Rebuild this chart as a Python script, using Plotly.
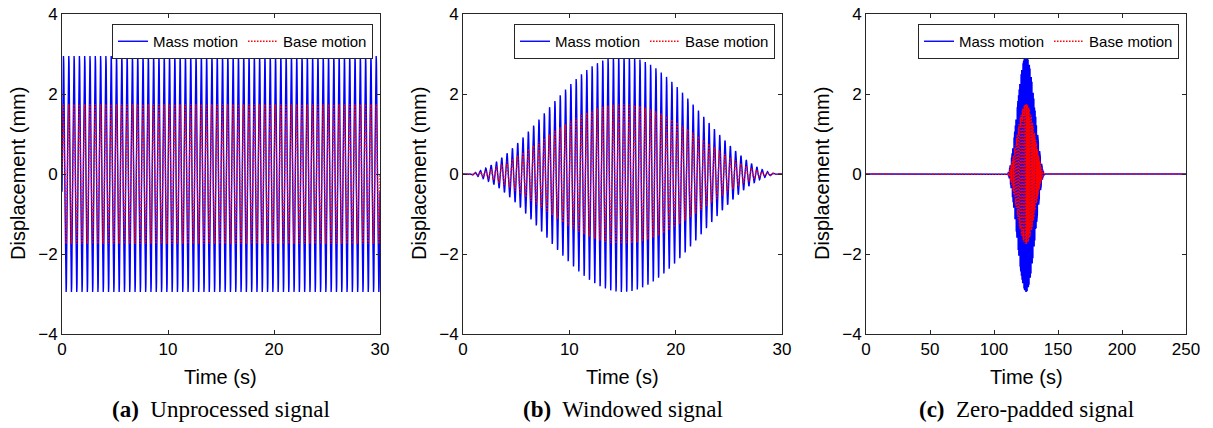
import numpy as np
import plotly.graph_objects as go

# ---- values ----
duration_s = 30.0          # length of recorded signal
total_padded_s = 250.0     # length after zero padding
pad_start_s = 110.0        # start of the signal inside the padded record
sample_rate_hz = 100.0
drive_freq_hz = 2.0        # ~60 cycles in 30 s
mass_amp_mm = 2.95
base_amp_mm = 1.75
mass_phase_rad = -0.15

x_ticks_ab = [0, 10, 20, 30]
x_ticks_c = [0, 50, 100, 150, 200, 250]
y_ticks = [-4, -2, 0, 2, 4]
captions = ["<b>(a)</b>  Unprocessed signal", "<b>(b)</b>  Windowed signal", "<b>(c)</b>  Zero-padded signal"]
series_names = ["Mass motion", "Base motion"]
x_title = "Time (s)"
y_title = "Displacement (mm)"

# ---- signals ----
t = np.arange(0, duration_s + 1e-9, 1 / sample_rate_hz)
mass_raw = mass_amp_mm * np.sin(2 * np.pi * drive_freq_hz * t + mass_phase_rad)
base_raw = base_amp_mm * np.sin(2 * np.pi * drive_freq_hz * t)
hann = np.sin(np.pi * t / duration_s) ** 2
mass_win = mass_raw * hann
base_win = base_raw * hann

t_pad = np.arange(0, total_padded_s + 1e-9, 1 / sample_rate_hz)
mass_pad = np.zeros_like(t_pad)
base_pad = np.zeros_like(t_pad)
i0 = int(round(pad_start_s * sample_rate_hz))
mass_pad[i0:i0 + len(t)] = mass_win
base_pad[i0:i0 + len(t)] = base_win

W, H = 1213, 428


def px(x):
    return x / W


def py(y):
    return 1 - y / H


xdoms = [(px(62), px(380)), (px(463), px(782)), (px(866), px(1186))]
ydom = (py(334), py(14))

fig = go.Figure()
data = [(t, mass_raw, base_raw), (t, mass_win, base_win), (t_pad, mass_pad, base_pad)]
for k, (tt, m, b) in enumerate(data):
    suffix = "" if k == 0 else str(k + 1)
    leg = "legend" + suffix
    fig.add_trace(go.Scatter(x=tt, y=m, mode="lines", name=series_names[0],
                             line=dict(color="#0000ff", width=1.4),
                             xaxis="x" + suffix, yaxis="y" + suffix, legend=leg))
    fig.add_trace(go.Scatter(x=tt, y=b, mode="lines", name=series_names[1],
                             line=dict(color="#ff0000", width=1.4, dash="1.5px,1.5px"),
                             xaxis="x" + suffix, yaxis="y" + suffix, legend=leg))

sans = "Liberation Sans, Arial, sans-serif"
axis_font = dict(family=sans, size=17, color="black")
title_font = dict(family=sans, size=20, color="black")

layout = dict(
    width=W, height=H, margin=dict(l=0, r=0, t=0, b=0, autoexpand=False),
    paper_bgcolor="white", plot_bgcolor="white", showlegend=True,
)
for k in range(3):
    suffix = "" if k == 0 else str(k + 1)
    xr = [0, 30] if k < 2 else [0, 250]
    xt = x_ticks_ab if k < 2 else x_ticks_c
    layout["xaxis" + suffix] = dict(
        domain=list(xdoms[k]), anchor="y" + suffix, range=xr, tickvals=xt,
        ticks="inside", ticklen=4, tickcolor="#262626", showline=True, linecolor="#262626",
        linewidth=1, mirror="ticks", showgrid=False, zeroline=False, automargin=False,
        tickfont=axis_font, ticklabeloverflow="allow",
    )
    layout["yaxis" + suffix] = dict(
        domain=list(ydom), anchor="x" + suffix, range=[-4, 4], tickvals=y_ticks,
        ticks="inside", ticklen=4, tickcolor="#262626", showline=True, linecolor="#262626",
        linewidth=1, mirror="ticks", showgrid=False, zeroline=False, automargin=False,
        tickfont=axis_font, ticklabeloverflow="allow",
    )
    layout["legend" + suffix] = dict(
        x=xdoms[k][1] - 7 / W, y=ydom[1] - 10 / H, xanchor="right", yanchor="top",
        orientation="h", bgcolor="white", bordercolor="#262626", borderwidth=1,
        font=dict(family=sans, size=15, color="black"),
        itemwidth=30, tracegroupgap=0, traceorder="normal",
    )

fig.update_layout(**layout)

for k in range(3):
    cx = (xdoms[k][0] + xdoms[k][1]) / 2
    fig.add_annotation(
        x=cx, y=py(409), xref="paper", yref="paper",
        text=captions[k], showarrow=False, xanchor="center", yanchor="middle",
        font=dict(family="Liberation Serif, Times New Roman, serif", size=23, color="black"),
    )
    fig.add_annotation(
        x=cx, y=py(377), xref="paper", yref="paper",
        text=x_title, showarrow=False, xanchor="center", yanchor="middle",
        font=title_font,
    )
    fig.add_annotation(
        x=xdoms[k][0] - 44 / W, y=(ydom[0] + ydom[1]) / 2, xref="paper", yref="paper",
        text=y_title, showarrow=False, xanchor="center", yanchor="middle", textangle=-90,
        font=title_font,
    )

fig.write_html("out.html", config={"displayModeBar": False},
               post_script="document.body.style.margin='0';")
